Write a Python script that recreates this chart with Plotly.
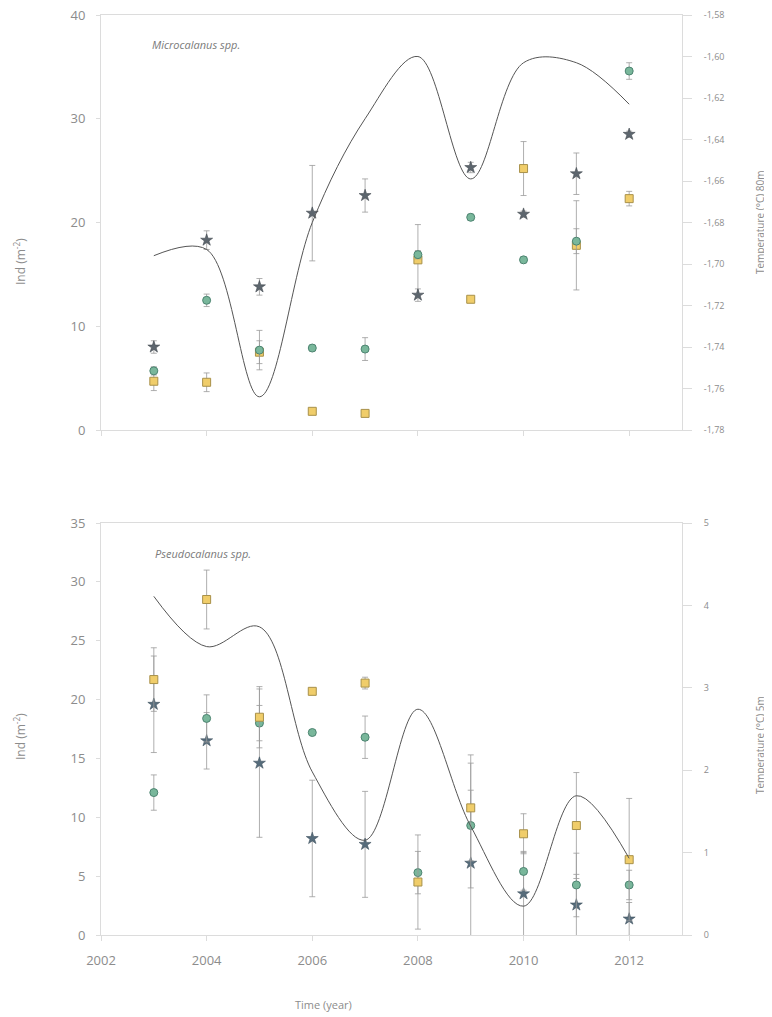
import plotly.graph_objects as go

years = [2003, 2004, 2005, 2006, 2007, 2008, 2009, 2010, 2011, 2012]

# Microcalanus spp. (top panel)
micro_circle = [5.7, 12.5, 7.7, 7.9, 7.8, 16.9, 20.5, 16.4, 18.2, 34.6]
micro_circle_err = [0.4, 0.6, 1.9, 0.3, 1.1, 0.4, 0.3, 0.3, 1.2, 0.8]
micro_square = [4.7, 4.6, 7.5, 1.8, 1.6, 16.4, 12.6, 25.2, 17.8, 22.3]
micro_square_err = [0.9, 0.9, 1.1, 0.2, 0.2, 3.4, 0.2, 2.6, 4.3, 0.7]
micro_star = [8.0, 18.3, 13.8, 20.9, 22.6, 13.0, 25.3, 20.8, 24.7, 28.5]
micro_star_err = [0.6, 0.9, 0.8, 4.6, 1.6, 0.6, 0.5, 0.3, 2.0, 0.3]
temp_80m = [-1.696, -1.693, -1.764, -1.680, -1.630, -1.600, -1.659, -1.603, -1.603, -1.623]

# Pseudocalanus spp. (bottom panel)
pseudo_square = [21.7, 28.5, 18.5, 20.7, 21.4, 4.5, 10.8, 8.6, 9.3, 6.4]
pseudo_square_err = [2.7, 2.5, 2.6, 0.2, 0.5, 4.0, 4.5, 1.7, 4.5, 5.2]
pseudo_circle = [12.1, 18.4, 18.0, 17.2, 16.8, 5.3, 9.3, 5.4, 4.25, 4.25]
pseudo_circle_err = [1.5, 2.0, 1.5, 0.2, 1.8, 1.8, 5.3, 1.6, 2.7, 1.25]
pseudo_star = [19.6, 16.5, 14.6, 8.2, 7.7, None, 6.1, 3.5, 2.55, 1.36]
pseudo_star_err = [4.1, 2.4, 6.3, 4.95, 4.5, 0, 6.2, 3.6, 2.6, 1.4]
temp_5m = [4.11, 3.50, 3.74, 1.98, 1.15, 2.74, 1.32, 0.35, 1.69, 0.93]

x_ticks = [2002, 2004, 2006, 2008, 2010, 2012]
x_ticktext = ["2002", "2004", "2006", "2008", "2010", "2012"]
top_left_ticks = [0, 10, 20, 30, 40]
top_right_ticks = [-1.78, -1.76, -1.74, -1.72, -1.70, -1.68, -1.66, -1.64, -1.62, -1.60, -1.58]
top_right_text = ["-1,78", "-1,76", "-1,74", "-1,72", "-1,70", "-1,68", "-1,66", "-1,64", "-1,62", "-1,60", "-1,58"]
bot_left_ticks = [0, 5, 10, 15, 20, 25, 30, 35]
bot_right_ticks = [0, 1, 2, 3, 4, 5]

AXIS = "#dcdcdc"
TXT = "#8c8c8c"
ERR = "#9a9a9a"
FONT = "Open Sans"

circle_style = dict(symbol="circle", size=8, color="#79b79b", line=dict(color="#4d8471", width=1))
square_style = dict(symbol="square", size=8, color="#f0cd6a", line=dict(color="#a8914a", width=1))
star_style_top = dict(symbol="star", size=9, color="#5d666e", line=dict(color="#444c52", width=0.6))
star_style_bot = dict(symbol="star", size=9, color="#566c7b", line=dict(color="#3f5260", width=0.6))

# page has an 8px body margin; the figure fills the rest of the window
OFF = 8
W, H = 772 - OFF, 1017 - OFF


def xp(px):
    return (px - OFF) / W


def yp(py):
    return 1 - (py - OFF) / H


def err(arr):
    return dict(type="data", array=arr, visible=True, color=ERR, thickness=0.8, width=3)


fig = go.Figure()

# top panel
fig.add_trace(go.Scatter(x=years, y=temp_80m, mode="lines", line=dict(color="#555555", width=1, shape="spline", smoothing=1.0),
                         xaxis="x", yaxis="y2", showlegend=False, hoverinfo="skip"))
fig.add_trace(go.Scatter(x=years, y=micro_square, mode="markers", marker=square_style, error_y=err(micro_square_err),
                         xaxis="x", yaxis="y", showlegend=False))
fig.add_trace(go.Scatter(x=years, y=micro_circle, mode="markers", marker=circle_style, error_y=err(micro_circle_err),
                         xaxis="x", yaxis="y", showlegend=False))
fig.add_trace(go.Scatter(x=years, y=micro_star, mode="markers", marker=star_style_top, error_y=err(micro_star_err),
                         xaxis="x", yaxis="y", showlegend=False))

# bottom panel
fig.add_trace(go.Scatter(x=years, y=temp_5m, mode="lines", line=dict(color="#555555", width=1, shape="spline", smoothing=1.0),
                         xaxis="x2", yaxis="y4", showlegend=False, hoverinfo="skip"))
fig.add_trace(go.Scatter(x=years, y=pseudo_star, mode="markers", marker=star_style_bot, error_y=err(pseudo_star_err),
                         xaxis="x2", yaxis="y3", showlegend=False))
fig.add_trace(go.Scatter(x=years, y=pseudo_circle, mode="markers", marker=circle_style, error_y=err(pseudo_circle_err),
                         xaxis="x2", yaxis="y3", showlegend=False))
fig.add_trace(go.Scatter(x=years, y=pseudo_square, mode="markers", marker=square_style, error_y=err(pseudo_square_err),
                         xaxis="x2", yaxis="y3", showlegend=False))

xdom = [xp(101), xp(682)]
top_dom = [yp(430), yp(15)]
bot_dom = [yp(935), yp(523)]

xcommon = dict(range=[2002, 2013], domain=xdom, showgrid=False, zeroline=False, showline=True, linecolor=AXIS,
               linewidth=1, mirror=True, ticks="outside", ticklen=5, tickcolor=AXIS, automargin=False,
               ticklabeloverflow="allow",
               tickvals=x_ticks, ticktext=x_ticktext, tickfont=dict(family=FONT, size=13, color=TXT))

ycommon = dict(showgrid=False, zeroline=False, showline=True, linecolor=AXIS, tickcolor=AXIS, automargin=False,
               ticklabeloverflow="allow")

fig.update_layout(
    width=W, height=H, margin=dict(l=0, r=0, t=0, b=0, autoexpand=False),
    paper_bgcolor="white", plot_bgcolor="white",
    font=dict(family=FONT, color=TXT),
    xaxis=dict(**xcommon, anchor="y", showticklabels=False),
    yaxis=dict(**ycommon, range=[0, 40], domain=top_dom, anchor="x", ticks="outside", ticklen=4,
               tickvals=top_left_ticks, tickfont=dict(family=FONT, size=13, color=TXT), ticklabelstandoff=8),
    yaxis2=dict(**ycommon, range=[-1.78, -1.58], overlaying="y", side="right", anchor="x", ticks="outside",
                ticklen=9, tickvals=top_right_ticks, ticktext=top_right_text,
                tickfont=dict(family=FONT, size=9, color=TXT), ticklabelstandoff=10),
    xaxis2=dict(**xcommon, anchor="y3", showticklabels=True, ticklabelstandoff=8),
    yaxis3=dict(**ycommon, range=[0, 35], domain=bot_dom, anchor="x2", ticks="outside", ticklen=4,
                tickvals=bot_left_ticks, tickfont=dict(family=FONT, size=13, color=TXT), ticklabelstandoff=8),
    yaxis4=dict(**ycommon, range=[0, 5], overlaying="y3", side="right", anchor="x2", ticks="outside",
                ticklen=9, tickvals=bot_right_ticks, tickfont=dict(family=FONT, size=9, color=TXT),
                ticklabelstandoff=10),
)

ann = [
    dict(text="<i>Microcalanus spp.</i>", x=xp(150), y=yp(45), xanchor="left", yanchor="middle",
         font=dict(size=11, color="#7a7a7a")),
    dict(text="<i>Pseudocalanus spp.</i>", x=xp(153), y=yp(553), xanchor="left", yanchor="middle",
         font=dict(size=11, color="#7a7a7a")),
    dict(text="Ind (m<sup>-2</sup>)", x=xp(20), y=yp(262), textangle=-90, xanchor="center", yanchor="middle",
         font=dict(size=12, color=TXT)),
    dict(text="Ind (m<sup>-2</sup>)", x=xp(20), y=yp(737), textangle=-90, xanchor="center", yanchor="middle",
         font=dict(size=12, color=TXT)),
    dict(text="Temperature (°C) 80m", x=xp(760), y=yp(222), textangle=-90, xanchor="center", yanchor="middle",
         font=dict(size=10, color=TXT)),
    dict(text="Temperature (°C) 5m", x=xp(760), y=yp(745), textangle=-90, xanchor="center", yanchor="middle",
         font=dict(size=10, color=TXT)),
    dict(text="Time (year)", x=xp(323), y=yp(1004), xanchor="center", yanchor="middle",
         font=dict(size=11, color=TXT)),
]
for a in ann:
    a.update(xref="paper", yref="paper", showarrow=False)
    a["font"]["family"] = FONT
fig.update_layout(annotations=ann)

fig.write_html("out.html")
